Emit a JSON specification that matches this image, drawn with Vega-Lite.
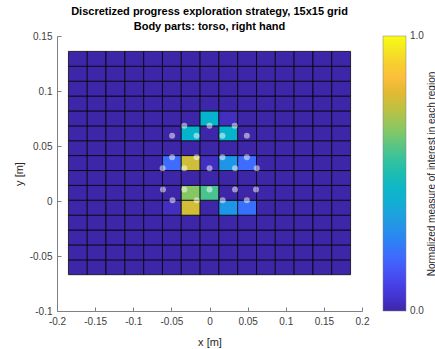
{
  "$schema": "https://vega.github.io/schema/vega-lite/v6.json",
  "autosize": "none",
  "width": 305,
  "height": 275,
  "padding": {"left": 57, "top": 36, "right": 73, "bottom": 38},
  "title": {
    "text": ["Discretized progress exploration strategy, 15x15 grid", "Body parts: torso, right hand"],
    "frame": "group",
    "anchor": "middle",
    "font": "Liberation Sans",
    "fontSize": 11,
    "fontWeight": "bold",
    "color": "#000000",
    "lineHeight": 15,
    "offset": -1
  },
  "datasets": {
    "cells": [
      {"y1": -0.067, "y2": -0.0535, "x1": [-0.185,-0.1603,-0.1357,-0.111,-0.0863,-0.0617,-0.037,-0.0123,0.0123,0.037,0.0617,0.0863,0.111,0.1357,0.1603], "x2": [-0.1603,-0.1357,-0.111,-0.0863,-0.0617,-0.037,-0.0123,0.0123,0.037,0.0617,0.0863,0.111,0.1357,0.1603,0.185], "v": [0,0,0,0,0,0,0,0,0,0,0,0,0,0,0]},
      {"y1": -0.0535, "y2": -0.0399, "x1": [-0.185,-0.1603,-0.1357,-0.111,-0.0863,-0.0617,-0.037,-0.0123,0.0123,0.037,0.0617,0.0863,0.111,0.1357,0.1603], "x2": [-0.1603,-0.1357,-0.111,-0.0863,-0.0617,-0.037,-0.0123,0.0123,0.037,0.0617,0.0863,0.111,0.1357,0.1603,0.185], "v": [0,0,0,0,0,0,0,0,0,0,0,0,0,0,0]},
      {"y1": -0.0399, "y2": -0.0264, "x1": [-0.185,-0.1603,-0.1357,-0.111,-0.0863,-0.0617,-0.037,-0.0123,0.0123,0.037,0.0617,0.0863,0.111,0.1357,0.1603], "x2": [-0.1603,-0.1357,-0.111,-0.0863,-0.0617,-0.037,-0.0123,0.0123,0.037,0.0617,0.0863,0.111,0.1357,0.1603,0.185], "v": [0,0,0,0,0,0,0,0,0,0,0,0,0,0,0]},
      {"y1": -0.0264, "y2": -0.0129, "x1": [-0.185,-0.1603,-0.1357,-0.111,-0.0863,-0.0617,-0.037,-0.0123,0.0123,0.037,0.0617,0.0863,0.111,0.1357,0.1603], "x2": [-0.1603,-0.1357,-0.111,-0.0863,-0.0617,-0.037,-0.0123,0.0123,0.037,0.0617,0.0863,0.111,0.1357,0.1603,0.185], "v": [0,0,0,0,0,0,0,0,0,0,0,0,0,0,0]},
      {"y1": -0.0129, "y2": 0.0007, "x1": [-0.185,-0.1603,-0.1357,-0.111,-0.0863,-0.0617,-0.037,-0.0123,0.0123,0.037,0.0617,0.0863,0.111,0.1357,0.1603], "x2": [-0.1603,-0.1357,-0.111,-0.0863,-0.0617,-0.037,-0.0123,0.0123,0.037,0.0617,0.0863,0.111,0.1357,0.1603,0.185], "v": [0,0,0,0,0,0.03,0.77,0,0.31,0.21,0,0,0,0,0]},
      {"y1": 0.0007, "y2": 0.0142, "x1": [-0.185,-0.1603,-0.1357,-0.111,-0.0863,-0.0617,-0.037,-0.0123,0.0123,0.037,0.0617,0.0863,0.111,0.1357,0.1603], "x2": [-0.1603,-0.1357,-0.111,-0.0863,-0.0617,-0.037,-0.0123,0.0123,0.037,0.0617,0.0863,0.111,0.1357,0.1603,0.185], "v": [0,0,0,0,0,0,0.66,0.58,0,0,0,0,0,0,0]},
      {"y1": 0.0142, "y2": 0.0277, "x1": [-0.185,-0.1603,-0.1357,-0.111,-0.0863,-0.0617,-0.037,-0.0123,0.0123,0.037,0.0617,0.0863,0.111,0.1357,0.1603], "x2": [-0.1603,-0.1357,-0.111,-0.0863,-0.0617,-0.037,-0.0123,0.0123,0.037,0.0617,0.0863,0.111,0.1357,0.1603,0.185], "v": [0,0,0,0,0,0,0,0,0,0,0,0,0,0,0]},
      {"y1": 0.0277, "y2": 0.0413, "x1": [-0.185,-0.1603,-0.1357,-0.111,-0.0863,-0.0617,-0.037,-0.0123,0.0123,0.037,0.0617,0.0863,0.111,0.1357,0.1603], "x2": [-0.1603,-0.1357,-0.111,-0.0863,-0.0617,-0.037,-0.0123,0.0123,0.037,0.0617,0.0863,0.111,0.1357,0.1603,0.185], "v": [0,0,0,0,0,0.2,0.76,0.03,0.31,0.2,0,0,0,0,0]},
      {"y1": 0.0413, "y2": 0.0548, "x1": [-0.185,-0.1603,-0.1357,-0.111,-0.0863,-0.0617,-0.037,-0.0123,0.0123,0.037,0.0617,0.0863,0.111,0.1357,0.1603], "x2": [-0.1603,-0.1357,-0.111,-0.0863,-0.0617,-0.037,-0.0123,0.0123,0.037,0.0617,0.0863,0.111,0.1357,0.1603,0.185], "v": [0,0,0,0,0,0,0,0,0,0,0,0,0,0,0]},
      {"y1": 0.0548, "y2": 0.0683, "x1": [-0.185,-0.1603,-0.1357,-0.111,-0.0863,-0.0617,-0.037,-0.0123,0.0123,0.037,0.0617,0.0863,0.111,0.1357,0.1603], "x2": [-0.1603,-0.1357,-0.111,-0.0863,-0.0617,-0.037,-0.0123,0.0123,0.037,0.0617,0.0863,0.111,0.1357,0.1603,0.185], "v": [0,0,0,0,0,0,0.43,0,0.43,0,0,0,0,0,0]},
      {"y1": 0.0683, "y2": 0.0819, "x1": [-0.185,-0.1603,-0.1357,-0.111,-0.0863,-0.0617,-0.037,-0.0123,0.0123,0.037,0.0617,0.0863,0.111,0.1357,0.1603], "x2": [-0.1603,-0.1357,-0.111,-0.0863,-0.0617,-0.037,-0.0123,0.0123,0.037,0.0617,0.0863,0.111,0.1357,0.1603,0.185], "v": [0,0,0,0,0,0,0,0.43,0.03,0,0,0,0,0,0]},
      {"y1": 0.0819, "y2": 0.0954, "x1": [-0.185,-0.1603,-0.1357,-0.111,-0.0863,-0.0617,-0.037,-0.0123,0.0123,0.037,0.0617,0.0863,0.111,0.1357,0.1603], "x2": [-0.1603,-0.1357,-0.111,-0.0863,-0.0617,-0.037,-0.0123,0.0123,0.037,0.0617,0.0863,0.111,0.1357,0.1603,0.185], "v": [0,0,0,0,0,0,0,0,0,0,0,0,0,0,0]},
      {"y1": 0.0954, "y2": 0.1089, "x1": [-0.185,-0.1603,-0.1357,-0.111,-0.0863,-0.0617,-0.037,-0.0123,0.0123,0.037,0.0617,0.0863,0.111,0.1357,0.1603], "x2": [-0.1603,-0.1357,-0.111,-0.0863,-0.0617,-0.037,-0.0123,0.0123,0.037,0.0617,0.0863,0.111,0.1357,0.1603,0.185], "v": [0,0,0,0,0,0,0,0,0,0,0,0,0,0,0]},
      {"y1": 0.1089, "y2": 0.1225, "x1": [-0.185,-0.1603,-0.1357,-0.111,-0.0863,-0.0617,-0.037,-0.0123,0.0123,0.037,0.0617,0.0863,0.111,0.1357,0.1603], "x2": [-0.1603,-0.1357,-0.111,-0.0863,-0.0617,-0.037,-0.0123,0.0123,0.037,0.0617,0.0863,0.111,0.1357,0.1603,0.185], "v": [0,0,0,0,0,0,0,0,0,0,0,0,0,0,0]},
      {"y1": 0.1225, "y2": 0.136, "x1": [-0.185,-0.1603,-0.1357,-0.111,-0.0863,-0.0617,-0.037,-0.0123,0.0123,0.037,0.0617,0.0863,0.111,0.1357,0.1603], "x2": [-0.1603,-0.1357,-0.111,-0.0863,-0.0617,-0.037,-0.0123,0.0123,0.037,0.0617,0.0863,0.111,0.1357,0.1603,0.185], "v": [0,0,0,0,0,0,0,0,0,0,0,0,0,0,0]}
    ],
    "pts": [
      {"x1": -0.033, "y1": 0.0685}, {"x1": 0.0, "y1": 0.0685}, {"x1": 0.033, "y1": 0.0685},
      {"x1": -0.049, "y1": 0.0593}, {"x1": -0.017, "y1": 0.0593}, {"x1": 0.017, "y1": 0.0593}, {"x1": 0.049, "y1": 0.0593},
      {"x1": -0.049, "y1": 0.0398}, {"x1": -0.017, "y1": 0.0398}, {"x1": 0.017, "y1": 0.0398}, {"x1": 0.049, "y1": 0.0398},
      {"x1": -0.0615, "y1": 0.0298}, {"x1": -0.033, "y1": 0.0298}, {"x1": 0.0, "y1": 0.0298}, {"x1": 0.0335, "y1": 0.0298}, {"x1": 0.062, "y1": 0.0298},
      {"x1": -0.061, "y1": 0.0105}, {"x1": -0.033, "y1": 0.0105}, {"x1": 0.0, "y1": 0.0105}, {"x1": 0.0335, "y1": 0.0105}, {"x1": 0.061, "y1": 0.0105},
      {"x1": -0.0485, "y1": 0.0007}, {"x1": -0.0168, "y1": 0.0007}, {"x1": 0.0173, "y1": 0.0007}, {"x1": 0.049, "y1": 0.0007}
    ]
  },
  "encoding": {
    "x": {"field": "x1", "type": "quantitative", "scale": {"domain": [-0.2, 0.2], "nice": false, "zero": false},
      "axis": {"title": "x [m]", "values": [-0.2, -0.15, -0.1, -0.05, 0, 0.05, 0.1, 0.15, 0.2], "labelOverlap": false, "labelFlush": false,
        "labelExpr": "replace(format(datum.value, '~g'), '−', '-')"}},
    "y": {"field": "y1", "type": "quantitative", "scale": {"domain": [-0.1, 0.15], "nice": false, "zero": false},
      "axis": {"title": "y [m]", "values": [-0.1, -0.05, 0, 0.05, 0.1, 0.15], "labelOverlap": false, "labelFlush": false,
        "labelExpr": "replace(format(datum.value, '~g'), '−', '-')"}}
  },
  "layer": [
    {
      "data": {"name": "cells"},
      "transform": [{"flatten": ["x1", "x2", "v"]}],
      "mark": {"type": "rect", "stroke": "#000000", "strokeWidth": 1, "strokeOpacity": 0.75},
      "encoding": {
        "x2": {"field": "x2"},
        "y2": {"field": "y2"},
        "color": {"field": "v", "type": "quantitative",
          "scale": {"domain": [0, 1], "range": ["#3E26A8","#4433CF","#4742E9","#4656F8","#3D6CFE","#2F80F6","#2592E9","#1DA2DD","#10AFD3","#0FB7C6","#1DBDB2","#35C29E","#59C583","#80C868","#A5C451","#C8BF3D","#E5B933","#FCBF3D","#F7CF2D","#F5E624","#F9FB15"]},
          "legend": {"title": "Normalized measure of interest in each region", "values": [0, 1], "format": ".1f",
            "orient": "right", "offset": 21, "padding": 0, "direction": "vertical",
            "gradientLength": 275, "gradientThickness": 23, "gradientStrokeColor": "#808080", "gradientStrokeWidth": 0.5,
            "labelFont": "Liberation Sans", "labelFontSize": 10, "labelColor": "#404040", "labelOffset": 4,
            "titleOrient": "right", "titleFont": "Liberation Sans", "titleFontSize": 10, "titleFontWeight": "normal", "titleColor": "#262626", "titlePadding": 13, "titleLimit": 400,
            "encode": {"title": {"update": {"angle": {"value": -90}}}, "labels": {"update": {"baseline": {"value": "middle"}}}}}}
      }
    },
    {
      "data": {"name": "pts"},
      "mark": {"type": "circle", "color": "#ffffff", "opacity": 0.5, "size": 36}
    }
  ],
  "config": {
    "view": {"stroke": null},
    "axis": {
      "grid": false,
      "domainColor": "#808080",
      "domainWidth": 1,
      "tickColor": "#808080",
      "tickSize": -4,
      "labelPadding": 9,
      "labelFont": "Liberation Sans",
      "labelFontSize": 10,
      "labelColor": "#404040",
      "titleFont": "Liberation Sans",
      "titleFontSize": 11,
      "titleFontWeight": "normal",
      "titleColor": "#262626"
    },
    "axisX": {"titlePadding": 10},
    "axisY": {"titlePadding": 5}
  }
}
